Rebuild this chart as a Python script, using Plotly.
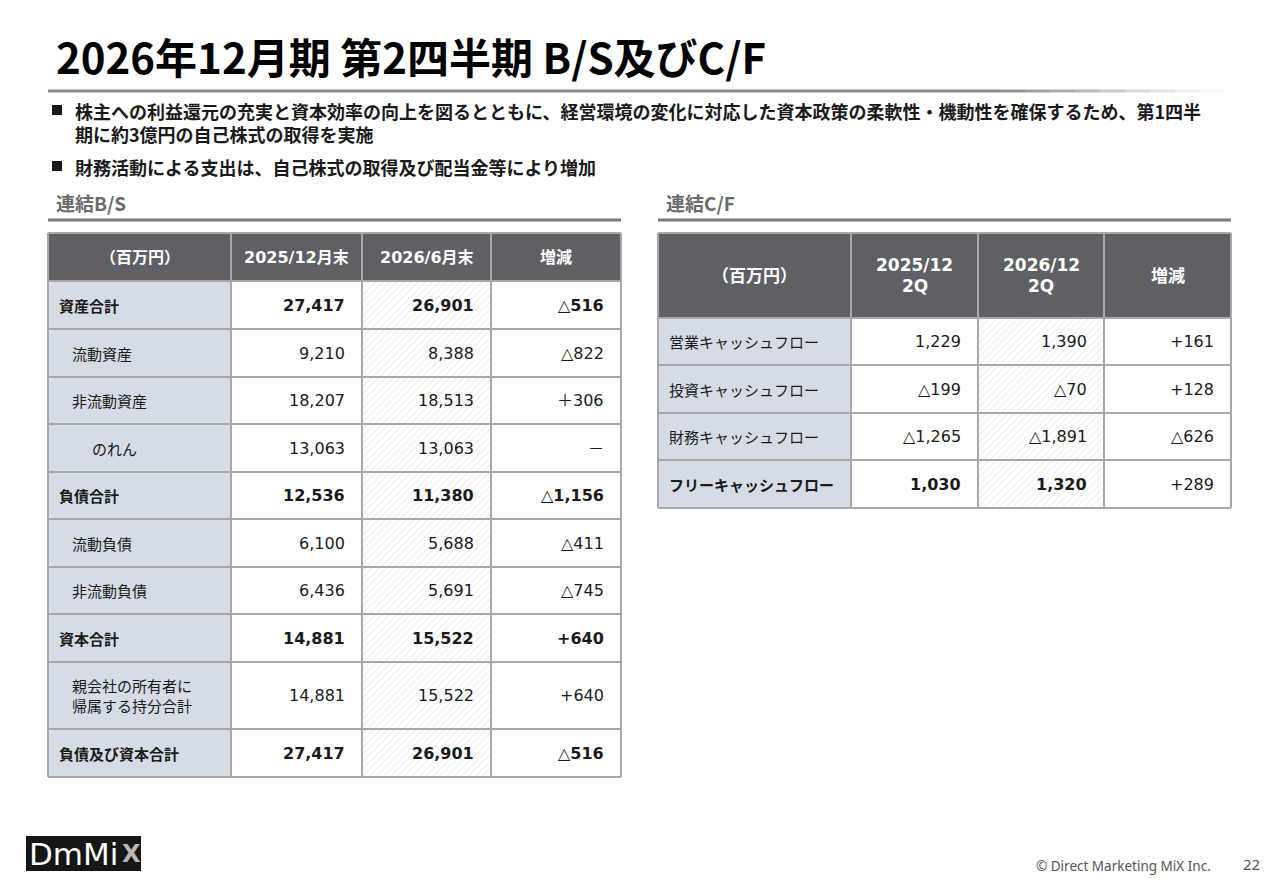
import plotly.graph_objects as go

# ---------------- data ----------------
title_text = "2026年12月期 第2四半期 B/S及びC/F"
bullets = [
    "株主への利益還元の充実と資本効率の向上を図るとともに、経営環境の変化に対応した資本政策の柔軟性・機動性を確保するため、第1四半<br>期に約3億円の自己株式の取得を実施",
    "財務活動による支出は、自己株式の取得及び配当金等により増加",
]

bs_title = "連結B/S"
bs_header = ["（百万円）", "2025/12月末", "2026/6月末", "増減"]
bs_labels = ["資産合計", "流動資産", "非流動資産", "のれん", "負債合計", "流動負債",
             "非流動負債", "資本合計", "親会社の所有者に<br>帰属する持分合計", "負債及び資本合計"]
bs_2025 = [27417, 9210, 18207, 13063, 12536, 6100, 6436, 14881, 14881, 27417]
bs_2026 = [26901, 8388, 18513, 13063, 11380, 5688, 5691, 15522, 15522, 26901]
bs_diff = ["△516", "△822", "＋306", "－", "△1,156", "△411", "△745", "+640", "+640", "△516"]

cf_title = "連結C/F"
cf_header = ["（百万円）", "2025/12<br>2Q", "2026/12<br>2Q", "増減"]
cf_labels = ["営業キャッシュフロー", "投資キャッシュフロー", "財務キャッシュフロー", "フリーキャッシュフロー"]
cf_2025 = [1229, -199, -1265, 1030]
cf_2026 = [1390, -70, -1891, 1320]
cf_diff = ["+161", "+128", "△626", "+289"]

footer_text = "© Direct Marketing MiX Inc."
page_no = "22"

# ---------------- style / layout ----------------
W, H = 1280, 886
JP = "Noto Sans CJK JP"
NUM = "DejaVu Sans, Noto Sans CJK JP"
HEAD_BG = "#5f6065"
LABEL_BG = "#d6dce5"
BORDER = "#a8a8a8"
TXT = "#1a1a1a"

bs_indent = [0, 1, 1, 2, 0, 1, 1, 0, 1, 0]
bs_bold_val = [True, False, False, False, True, False, False, True, False, True]
cf_bold = [False, False, False, True]

bs_cols = [48, 231, 362, 491, 621]
bs_top = 233
bs_header_h = 48
bs_row_h = [48, 48, 47, 48, 47, 48, 47, 48, 67, 48]

cf_cols = [658, 851, 978, 1104, 1231]
cf_top = 233
cf_header_h = 85
cf_row_h = [47, 48, 47, 48]


def fmt(v):
    return ("△" if v < 0 else "") + f"{abs(v):,}"


fig = go.Figure()
shapes = []
ann = []


def add_table(cols, top, header_h, row_h, header, labels, c1, c2, diffs,
              label_bold, val_bold, indent, header_size):
    ys = [top, top + header_h]
    for h in row_h:
        ys.append(ys[-1] + h)
    n = len(labels)

    def bars(xi, y0s, hs, color, pattern=None):
        cx = (cols[xi] + cols[xi + 1]) / 2
        w = cols[xi + 1] - cols[xi]
        marker = dict(color=color, line=dict(width=0))
        if pattern:
            marker["pattern"] = pattern
        fig.add_trace(go.Bar(x=[cx] * len(y0s), y=hs, base=y0s, width=[w] * len(y0s),
                             marker=marker, hoverinfo="skip", showlegend=False))
    for ci in range(4):
        bars(ci, [ys[0]], [header_h], HEAD_BG)
    bars(0, ys[1:-1], row_h, LABEL_BG)
    bars(1, ys[1:-1], row_h, "white")
    bars(2, ys[1:-1], row_h, "white",
         pattern=dict(shape="/", fgcolor="#d4d4d4", bgcolor="white", size=5, solidity=0.18))
    bars(3, ys[1:-1], row_h, "white")
    for y in ys:
        shapes.append(dict(type="line", x0=cols[0], x1=cols[-1], y0=y, y1=y,
                           xref="x", yref="y", line=dict(color=BORDER, width=2), layer="above"))
    for x in cols:
        shapes.append(dict(type="line", x0=x, x1=x, y0=ys[0], y1=ys[-1],
                           xref="x", yref="y", line=dict(color=BORDER, width=2), layer="above"))
    for ci in range(4):
        cx = (cols[ci] + cols[ci + 1]) / 2
        lines = header[ci].split("<br>")
        ym = (ys[0] + ys[1]) / 2
        step = 21
        for li, ln in enumerate(lines):
            yl = ym + (li - (len(lines) - 1) / 2) * step
            ann.append(dict(x=cx, y=yl, text=f"<b>{ln}</b>",
                            xanchor="center", yanchor="middle", showarrow=False,
                            font=dict(family=NUM, size=header_size, color="white")))
    for i in range(n):
        yc = (ys[i + 1] + ys[i + 2]) / 2
        lx = cols[0] + 9 + indent[i] * 13 + (7 if indent[i] == 2 else 0)
        lt = f"<b>{labels[i]}</b>" if label_bold[i] else labels[i]
        ann.append(dict(x=lx, y=yc, text=lt, xanchor="left", yanchor="middle",
                        align="left", showarrow=False,
                        font=dict(family=JP, size=15, color=TXT)))
        vals = [fmt(c1[i]), fmt(c2[i]), diffs[i]]
        for k, v in enumerate(vals):
            t = f"<b>{v}</b>" if val_bold[i][k] else v
            ann.append(dict(x=cols[k + 2] - 15, y=yc, text=t, xanchor="right",
                            yanchor="middle", showarrow=False,
                            font=dict(family=NUM, size=16, color=TXT)))


add_table(bs_cols, bs_top, bs_header_h, bs_row_h, bs_header, bs_labels, bs_2025, bs_2026, bs_diff,
          label_bold=[ind == 0 for ind in bs_indent],
          val_bold=[[b, b, b] for b in bs_bold_val],
          indent=bs_indent, header_size=16)
add_table(cf_cols, cf_top, cf_header_h, cf_row_h, cf_header, cf_labels, cf_2025, cf_2026, cf_diff,
          label_bold=cf_bold,
          val_bold=[[b, b, False] for b in cf_bold],
          indent=[0, 0, 0, 0], header_size=17)

# ---------------- title & text ----------------
ann.append(dict(x=54, y=55, text=f"<b>{title_text}</b>", xanchor="left", yanchor="middle",
                showarrow=False, font=dict(family=JP, size=42, color="#000000")))
shapes.append(dict(type="line", x0=48, x1=1000, y0=91, y1=91, xref="x", yref="y",
                   line=dict(color="#8a8a8a", width=3), layer="above"))
fade = ["#929292", "#9e9e9e", "#ababab", "#b9b9b9", "#c8c8c8", "#d6d6d6", "#e3e3e3", "#eeeeee", "#f6f6f6"]
seg = 25
for i, c in enumerate(fade):
    shapes.append(dict(type="line", x0=1000 + i * seg, x1=1000 + (i + 1) * seg, y0=91, y1=91,
                       xref="x", yref="y", line=dict(color=c, width=3), layer="above"))

bullet_y = [110, 166]
text_top = [96, 152]
for b, y, tt in zip(bullets, bullet_y, text_top):
    shapes.append(dict(type="rect", x0=52, x1=62, y0=y - 5, y1=y + 5, xref="x", yref="y",
                       fillcolor="#1a1a1a", line=dict(width=0)))
    ann.append(dict(x=73, y=tt, text=f"<b>{b}</b>", xanchor="left", yanchor="top",
                    align="left", showarrow=False,
                    font=dict(family=JP, size=18, color="#1a1a1a")))

for t, x0, x1 in [(bs_title, 48, 621), (cf_title, 658, 1231)]:
    ann.append(dict(x=x0 + 6, y=202, text=f"<b>{t}</b>", xanchor="left", yanchor="middle",
                    showarrow=False, font=dict(family=JP, size=19, color="#6b6b6b")))
    shapes.append(dict(type="line", x0=x0, x1=x1, y0=220, y1=220, xref="x", yref="y",
                       line=dict(color="#7a7a7a", width=3)))

# ---------------- footer ----------------
shapes.append(dict(type="rect", x0=26, x1=141, y0=836, y1=871, xref="x", yref="y",
                   fillcolor="#161616", line=dict(width=0)))
ann.append(dict(x=120, y=854, text="DmMi", xanchor="right", yanchor="middle", showarrow=False,
                font=dict(family="DejaVu Sans", size=31, color="white")))
ann.append(dict(x=120, y=854, text="<b>X</b>", xanchor="left", yanchor="middle", showarrow=False,
                font=dict(family="DejaVu Sans", size=24, color="#b8b8b8")))
ann.append(dict(x=1213, y=866, text=footer_text, xanchor="right", yanchor="middle", showarrow=False,
                font=dict(family="Noto Sans, DejaVu Sans", size=13.5, color="#555555")))
ann.append(dict(x=1262, y=864, text=page_no, xanchor="right", yanchor="middle", showarrow=False,
                font=dict(family="Noto Sans, DejaVu Sans", size=15, color="#555555")))

fig.update_layout(
    width=W, height=H,
    margin=dict(l=0, r=0, t=0, b=0),
    paper_bgcolor="white", plot_bgcolor="white",
    barmode="overlay", bargap=0,
    xaxis=dict(range=[0, W], visible=False, fixedrange=True),
    yaxis=dict(range=[H, 0], visible=False, fixedrange=True),
    shapes=shapes, annotations=ann,
    showlegend=False,
)
fig.write_html("out.html", config={"displayModeBar": False},
               post_script="document.body.style.margin='0';")
